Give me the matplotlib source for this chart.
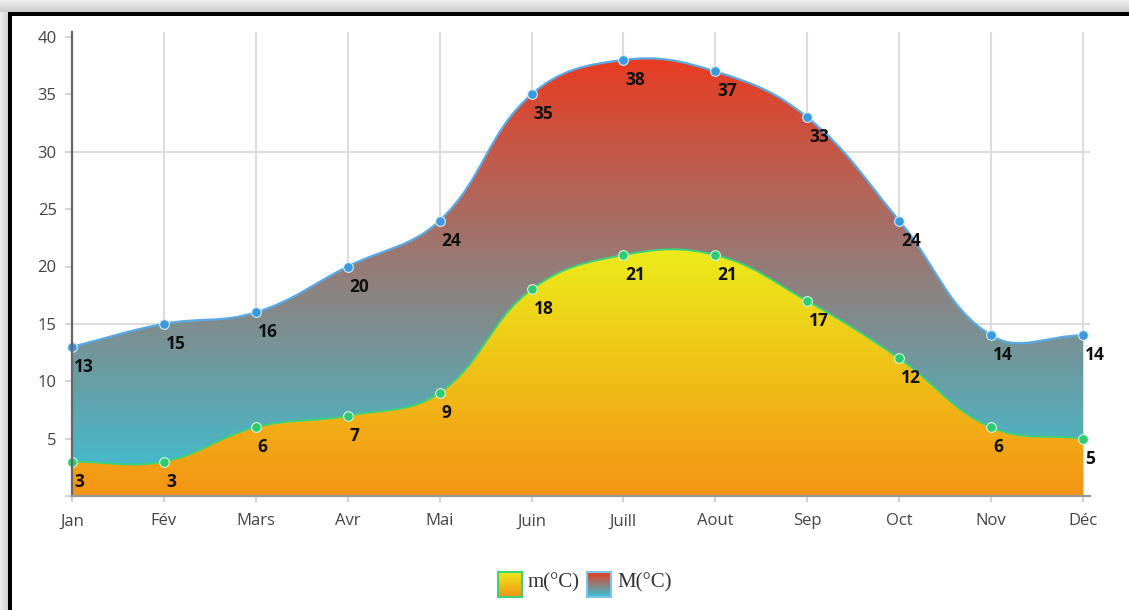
import numpy as np
import matplotlib
matplotlib.use("Agg")
import matplotlib.pyplot as plt
from matplotlib.path import Path
from matplotlib.patches import PathPatch

plt.rcParams['font.family'] = ['Open Sans', 'DejaVu Sans']

months = ['Jan', 'Fév', 'Mars', 'Avr', 'Mai', 'Juin', 'Juill', 'Aout', 'Sep', 'Oct', 'Nov', 'Déc']
t_max = [13, 15, 16, 20, 24, 35, 38, 37, 33, 24, 14, 14]
t_min = [3, 3, 6, 7, 9, 18, 21, 21, 17, 12, 6, 5]
yticks = [0, 5, 10, 15, 20, 25, 30, 35, 40]
legend_labels = ['m(°C)', 'M(°C)']

W, H = 1129, 610
fig = plt.figure(figsize=(W / 100, H / 100), dpi=100)

# ---- background frame (shadow + black border) ----
bg = np.ones((H, W, 3))
for r in range(12):
    v = 0.93 - 0.13 * r / 11
    bg[r, :, :] = v
for c in range(8):
    v = 0.93 - 0.10 * c / 7
    bg[12:, c, :] = np.minimum(bg[12:, c, :], v)
bg[12:16, 8:, :] = 0.0
bg[12:, 8:12, :] = 0.0
bax = fig.add_axes([0, 0, 1, 1], zorder=-10)
bax.imshow(bg, aspect='auto', extent=[0, W, H, 0], interpolation='bilinear')
bax.set_xlim(0, W)
bax.set_ylim(H, 0)
bax.axis('off')

# ---- main axes ----
x0px, x11px, xr = 72, 1083, 1090
y0px, y40px, ytop = 496, 37, 32
sx = (x11px - x0px) / 11.0
sy = (y0px - y40px) / 40.0
ax = fig.add_axes([x0px / W, 1 - y0px / H, (xr - x0px) / W, (y0px - ytop) / H])
ax.set_facecolor('none')
xmax = (xr - x0px) / sx
ymax = (y0px - ytop) / sy
ax.set_xlim(0, xmax)
ax.set_ylim(0, ymax)

n = len(months)
xs = np.arange(n, dtype=float)

# gridlines
for i in range(n):
    ax.plot([i, i], [0, ymax], color='#dddddd', lw=1.5, zorder=0.5, solid_capstyle='butt')
for g in (15, 30):
    ax.axhline(g, color='#dddddd', lw=1.5, zorder=0.5)


def spline_path(xd, yd, tension=0.4, closed_to_zero=False):
    px = np.asarray(xd) * sx
    py = np.asarray(yd) * sy
    m = len(px)
    cpp = np.zeros((m, 2))
    cpn = np.zeros((m, 2))
    for i in range(m):
        p = i - 1 if i > 0 else i
        q = i + 1 if i < m - 1 else i
        d01 = np.hypot(px[i] - px[p], py[i] - py[p])
        d12 = np.hypot(px[q] - px[i], py[q] - py[i])
        tot = d01 + d12
        s01 = d01 / tot if tot else 0
        s12 = d12 / tot if tot else 0
        fa = tension * s01
        fb = tension * s12
        cpp[i] = (px[i] - fa * (px[q] - px[p]), py[i] - fa * (py[q] - py[p]))
        cpn[i] = (px[i] + fb * (px[q] - px[p]), py[i] + fb * (py[q] - py[p]))
    verts = [(px[0] / sx, py[0] / sy)]
    codes = [Path.MOVETO]
    for i in range(m - 1):
        verts += [(cpn[i][0] / sx, cpn[i][1] / sy), (cpp[i + 1][0] / sx, cpp[i + 1][1] / sy),
                  (px[i + 1] / sx, py[i + 1] / sy)]
        codes += [Path.CURVE4] * 3
    if closed_to_zero:
        verts += [(xd[-1], 0), (xd[0], 0), (xd[0], yd[0])]
        codes += [Path.LINETO, Path.LINETO, Path.CLOSEPOLY]
    return Path(verts, codes)


def gradient_fill(path, top_col, bot_col, ytop_g, z):
    patch = PathPatch(path, facecolor='none', edgecolor='none', zorder=z)
    ax.add_patch(patch)
    N = 256
    ext_top = ytop_g + 3
    yv = np.linspace(ext_top, 0, N)
    t = np.clip(yv / ytop_g, 0, 1)[:, None]
    top = np.array(top_col) / 255.0
    bot = np.array(bot_col) / 255.0
    img = bot[None, None, :] + (top - bot)[None, None, :] * t[:, :, None]
    img = np.repeat(img, 2, axis=1)
    im = ax.imshow(img, extent=[0, n - 1, 0, ext_top], aspect='auto', zorder=z,
                   interpolation='bilinear', origin='upper')
    im.set_clip_path(patch)


# M area (behind)
pM_fill = spline_path(xs, t_max, closed_to_zero=True)
gradient_fill(pM_fill, (232, 60, 34), (58, 194, 214), max(t_max), 1)
# m area (front)
pm_fill = spline_path(xs, t_min, closed_to_zero=True)
gradient_fill(pm_fill, (236, 234, 26), (244, 148, 20), max(t_min), 2)

# lines
ax.add_patch(PathPatch(spline_path(xs, t_max), facecolor='none', edgecolor='#5aaae6', lw=1.6, zorder=3))
ax.add_patch(PathPatch(spline_path(xs, t_min), facecolor='none', edgecolor='#3ad27a', lw=1.4, zorder=3))
ax.plot(xs, t_max, 'o', ms=7, mfc='#3a9ae0', mec='#d6ecfa', mew=0.8, zorder=4, clip_on=False)
ax.plot(xs, t_min, 'o', ms=7, mfc='#2ecc71', mec='#d8f5e4', mew=0.8, zorder=4, clip_on=False)

# data labels
for xi, v in zip(xs, t_max):
    ax.annotate(str(v), (xi, v), xytext=(2, -11), textcoords='offset pixels', ha='left', va='top',
                fontsize=12.5, fontweight='bold', color='#111111', zorder=5, annotation_clip=False)
for xi, v in zip(xs, t_min):
    ax.annotate(str(v), (xi, v), xytext=(2, -11), textcoords='offset pixels', ha='left', va='top',
                fontsize=12.5, fontweight='bold', color='#111111', zorder=5, annotation_clip=False)

# axes styling
for s in ('top', 'right'):
    ax.spines[s].set_visible(False)
ax.spines['left'].set_color('#666666')
ax.spines['left'].set_linewidth(1.6)
ax.spines['left'].set_zorder(6)
ax.spines['bottom'].set_color('#999999')
ax.spines['bottom'].set_linewidth(1.6)
ax.spines['bottom'].set_zorder(6)
ax.set_yticks(yticks)
ax.set_yticklabels([''] + [str(v) for v in yticks[1:]])
ax.set_xticks(xs)
ax.set_xticklabels(months)
ax.tick_params(axis='y', length=5, width=1.2, color='#cccccc', pad=6, labelsize=12, labelcolor='#444444')
ax.tick_params(axis='x', length=4.5, width=1.2, color='#cccccc', pad=8, labelsize=12, labelcolor='#444444')

# legend
lw_box, lh_box = 24, 25
boxes = [(498, (236, 234, 26), (244, 148, 20), '#3ad27a'),
         (587, (232, 60, 34), (58, 194, 214), '#7cc4ee')]
for (bx, tc, bc, ec), lab in zip(boxes, legend_labels):
    lax = fig.add_axes([bx / W, 1 - 597 / H, lw_box / W, lh_box / H])
    t = np.linspace(1, 0, 64)[:, None]
    top = np.array(tc) / 255.0
    bot = np.array(bc) / 255.0
    img = bot[None, None, :] + (top - bot)[None, None, :] * t[:, :, None]
    lax.imshow(np.repeat(img, 2, axis=1), aspect='auto', interpolation='bilinear')
    lax.set_xticks([])
    lax.set_yticks([])
    for s in lax.spines.values():
        s.set_color(ec)
        s.set_linewidth(1.5)
    fig.text((bx + 30) / W, 1 - 583 / H, lab, family=['Liberation Serif'], fontsize=15,
             color='#333333', ha='left', va='center')

fig.savefig('out.png', dpi=100)
